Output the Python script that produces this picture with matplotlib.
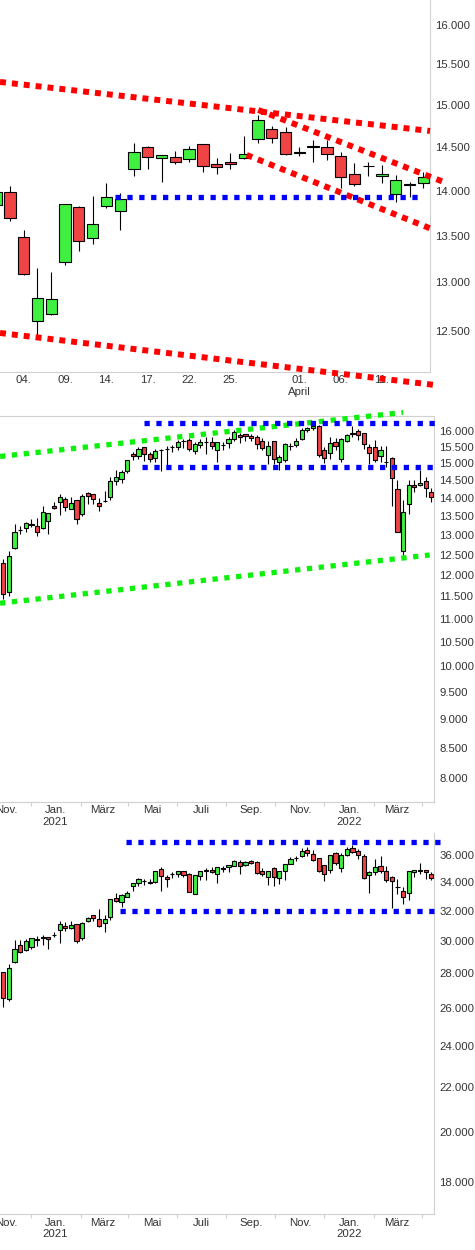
import matplotlib
matplotlib.use('Agg')
import matplotlib.pyplot as plt
import matplotlib.dates as mdates
from matplotlib.ticker import FixedLocator, FuncFormatter, NullLocator
import numpy as np
import pandas as pd

plt.rcParams['font.family'] = ['Liberation Sans', 'DejaVu Sans']

GREEN = '#40f040'
RED = '#f04444'
SPINE = '#d0d0d0'
TXT = '#333333'

# ---- daily DAX, 2 March - 14 April 2022
days = pd.bdate_range('2022-03-02', '2022-04-14')
day_open = [13838, 13981, 13483, 12604, 12670, 13213, 13814, 13471, 13824, 13768, 14243, 14497,
            14370, 14381, 14358, 14533, 14301, 14324, 14370, 14591, 14710, 14675, 14436, 14500,
            14497, 14396, 14189, 14280, 14166, 13959, 14064, 14090]
day_high = [14030, 14053, 13562, 13155, 13113, 13850, 13830, 13939, 14090, 13976, 14553, 14516,
            14410, 14454, 14516, 14540, 14373, 14428, 14631, 14881, 14750, 14742, 14504, 14583,
            14583, 14440, 14312, 14331, 14289, 14178, 14101, 14210]
day_low = [13780, 13664, 13080, 12460, 12665, 13185, 13337, 13406, 13808, 13565, 14169, 14243,
           14101, 14301, 14331, 14214, 14185, 14243, 14365, 14544, 14553, 14405, 14400, 14331,
           14347, 14027, 14056, 14169, 14090, 13875, 13928, 14027]
day_close = [13984, 13690, 13085, 12834, 12824, 13846, 13439, 13624, 13925, 13910, 14440, 14381,
             14405, 14324, 14474, 14277, 14266, 14301, 14417, 14820, 14610, 14417, 14446, 14518,
             14417, 14151, 14071, 14284, 14189, 14117, 14076, 14151]
day_tick_dates = ['2022-03-04', '2022-03-09', '2022-03-14', '2022-03-17', '2022-03-22',
                  '2022-03-25', '2022-04-01', '2022-04-06', '2022-04-11']
day_ticks_y = [12500, 13000, 13500, 14000, 14500, 15000, 15500, 16000]

# trend lines, x in trading days after 2 March
day_red_upper = ([0.28, 31.48], [15283, 14690])
day_red_lower = ([0.28, 31.99], [12480, 11964])
day_red_fast = ([19.02, 32.42], [14941, 14101])
day_red_fast2 = ([18.18, 31.48], [14408, 13580])
day_blue = ([8.62, 30.97], [13927, 13927])

# ---- weekly candles, Oct 2020 - Apr 2022
weeks = pd.date_range('2020-10-28', periods=77, freq='7D')
dax_open = [12287, 11594, 12676, 13120, 13193, 13265, 13231, 13193, 13379, 13770, 13880, 13962,
            13687, 13934, 13550, 14131, 14102, 13852, 13910, 14017, 14472, 14529, 14782, 15275,
            15214, 15488, 15284, 15171, 15400, 15420, 15490, 15488, 15680, 15708, 15366, 15551,
            15640, 15645, 15396, 15545, 15614, 15739, 15865, 15896, 15834, 15802, 15676, 15244,
            15676, 15031, 15092, 15515, 15551, 15739, 16023, 16088, 16153, 15396, 15305, 15645,
            15122, 15676, 15920, 15991, 15928, 15488, 15488, 15214, 15025, 15153, 14244, 12599,
            13825, 14358, 14358, 14472, 14159]
dax_high = [12385, 12592, 13292, 13246, 13337, 13416, 13443, 13778, 13585, 13880, 14111, 14026,
            14026, 13945, 14102, 14159, 14110, 13990, 14187, 14597, 14794, 14794, 15100, 15336,
            15488, 15500, 15345, 15436, 15427, 15528, 15560, 15708, 15748, 15771, 15645, 15739,
            15802, 15802, 15660, 15645, 15802, 16023, 15928, 15905, 15896, 15874, 15771, 15676,
            15690, 15244, 15614, 15614, 15771, 16088, 16120, 16218, 16185, 15488, 15802, 15771,
            15771, 15896, 16153, 16055, 15940, 15582, 15708, 15520, 15520, 15183, 14500, 13934,
            14500, 14500, 14794, 14588, 14273]
dax_low = [11440, 11514, 12643, 13019, 13087, 13212, 12982, 13159, 13034, 13700, 13530, 13640,
           13680, 13284, 13495, 13825, 13825, 13649, 13880, 13950, 14375, 14415, 14723, 15110,
           15140, 15061, 15049, 15049, 14782, 14853, 15336, 15396, 15457, 15366, 15275, 15457,
           15275, 15445, 15031, 15396, 15457, 15676, 15614, 15676, 15676, 15427, 15396, 14979,
           14979, 14794, 15031, 15396, 15488, 15708, 15959, 16023, 15183, 15000, 15122, 15396,
           15031, 15645, 15802, 15708, 15427, 14970, 15031, 15031, 14882, 13786, 13065, 12490,
           13550, 14159, 14330, 14017, 13880]
dax_close = [11547, 12458, 13072, 13137, 13310, 13280, 13087, 13605, 13577, 13715, 14017, 13759,
             13852, 13416, 14045, 14045, 13962, 13770, 13920, 14472, 14588, 14735, 15092, 15214,
             15427, 15275, 15122, 15375, 15410, 15430, 15500, 15663, 15690, 15427, 15582, 15645,
             15650, 15520, 15645, 15555, 15739, 15959, 15802, 15834, 15771, 15582, 15457, 15520,
             15122, 15183, 15582, 15525, 15676, 16023, 16088, 16153, 15244, 15153, 15614, 15520,
             15739, 15865, 15935, 15865, 15582, 15305, 15092, 15396, 15035, 14559, 13072, 13605,
             14375, 14301, 14415, 14273, 14017]
dax_ticks_y = list(range(8000, 16001, 500))
dax_green_upper = (['2020-10-24', '2022-03-09'], [15207, 16604])
dax_green_lower = (['2020-10-24', '2022-04-11'], [11343, 12490])
dax_blue_upper = (['2021-04-21', '2022-04-21'], [16270, 16270])
dax_blue_lower = (['2021-04-18', '2022-04-21'], [14900, 14900])

dow_open = [28074, 26519, 28689, 29736, 29428, 29613, 30075, 30210, 30243, 30388, 30702, 30964,
            30833, 31096, 30177, 31293, 31686, 31424, 31161, 31556, 32856, 32576, 32927, 33698,
            33909, 34090, 34022, 33979, 34940, 34348, 34560, 34570, 34792, 34570, 33137, 34422,
            34830, 34866, 34570, 34980, 35088, 35162, 35458, 35236, 35532, 35458, 34792, 34348,
            35014, 34274, 34792, 35310, 35770, 35902, 36365, 36054, 35754, 35236, 34866, 36132,
            35014, 35976, 36520, 36287, 35902, 34496, 34718, 35162, 34792, 34348, 33620, 33347,
            33207, 34718, 34830, 34866, 34570]
dow_high = [28100, 28584, 30066, 30066, 30131, 30200, 30328, 30374, 30260, 30571, 31293, 31227,
            31293, 31110, 31227, 31556, 31700, 32084, 31686, 32800, 33207, 33137, 33347, 33920,
            34274, 34200, 34200, 34800, 35088, 34496, 34762, 34800, 34810, 34640, 34510, 34810,
            35014, 35088, 35100, 35185, 35250, 35606, 35606, 35532, 35606, 35532, 35014, 34810,
            35088, 34810, 35330, 35828, 35924, 36520, 36597, 36365, 35770, 35250, 35990, 36210,
            36132, 36597, 36752, 36442, 36054, 34792, 35680, 35902, 35162, 34422, 34200, 33628,
            34800, 34880, 35384, 34880, 34718]
dow_low = [26097, 26439, 28603, 29219, 29342, 29490, 29693, 29754, 29465, 30243, 29895, 30637,
           30768, 29858, 30046, 31227, 31293, 30930, 30571, 31358, 32576, 32225, 32900, 33347,
           33698, 33811, 33881, 33909, 33347, 33628, 34274, 34348, 34348, 33250, 33120, 34126,
           34126, 34644, 33909, 34740, 34718, 35150, 34570, 35185, 35310, 34600, 34422, 33768,
           33698, 33839, 34126, 35290, 35554, 35828, 35902, 35580, 34718, 34052, 34644, 35236,
           34718, 35950, 36132, 35680, 34250, 33207, 34496, 34644, 33979, 32197, 33137, 32435,
           32716, 34348, 34570, 34200, 34126]
dow_close = [26576, 28320, 29490, 29305, 29982, 30177, 30095, 30222, 30112, 30400, 31096, 30833,
             31030, 29982, 31161, 31490, 31490, 30964, 31424, 32786, 32646, 33067, 33207, 33909,
             34200, 34100, 33909, 34792, 34422, 34200, 34580, 34792, 34496, 33277, 34496, 34792,
             34840, 34718, 35088, 34990, 35236, 35532, 35162, 35458, 35384, 34644, 34570, 34792,
             34348, 34792, 35310, 35680, 35780, 36287, 36132, 35606, 34792, 34570, 35976, 35384,
             35976, 36442, 36210, 35976, 34274, 34718, 35088, 34792, 34126, 34052, 33630, 32927,
             34792, 34866, 34845, 34718, 34274]
dow_ticks_y = list(range(18000, 36001, 2000))
dow_blue_upper = (['2021-03-30', '2022-04-24'], [37030, 37030])
dow_blue_lower = (['2021-03-22', '2022-04-16'], [32000, 32000])

MONTHS = {1: 'Jan.', 3: 'März', 5: 'Mai', 7: 'Juli', 9: 'Sep.', 11: 'Nov.'}


def candles(ax, x, o, h, l, c, width):
    o, h, l, c = map(np.asarray, (o, h, l, c))
    up = c >= o
    ax.vlines(x, l, h, color='black', lw=0.8, zorder=1)
    ax.bar(x, np.abs(c - o), bottom=np.minimum(o, c), width=width,
           color=np.where(up, GREEN, RED), edgecolor='black', linewidth=0.8, zorder=2)


def dotted(ax, line, color, lw=4.3, gap=1.0):
    xs, ys = line
    ax.plot(xs, ys, color=color, lw=lw, linestyle=(0, (1, gap)),
            dash_capstyle='butt', clip_on=False, zorder=4)


def price_axis(ax, ticks, ylim):
    ax.set_yscale('log')
    ax.set_ylim(*ylim)
    ax.yaxis.set_major_locator(FixedLocator(ticks))
    ax.yaxis.set_minor_locator(NullLocator())
    ax.yaxis.set_major_formatter(FuncFormatter(lambda v, p: f'{v:,.0f}'.replace(',', '.')))
    ax.yaxis.tick_right()
    ax.tick_params(axis='y', length=0, pad=4, labelsize=8.2, labelcolor=TXT)
    ax.tick_params(axis='x', labelsize=8.2, labelcolor=TXT, pad=2.5)
    for s in ['left', 'top']:
        ax.spines[s].set_visible(False)
    for s in ['right', 'bottom']:
        ax.spines[s].set_color(SPINE)
        ax.spines[s].set_linewidth(0.8)


def month_fmt(v, pos):
    d = mdates.num2date(v)
    s = MONTHS.get(d.month, '')
    if d.month == 1:
        s += f'\n{d.year}'
    return s


fig = plt.figure(figsize=(4.75, 12.5), dpi=100)
ax1 = fig.add_axes([0, 1 - 372 / 1250, 430 / 475, 372 / 1250])
ax2 = fig.add_axes([0, 1 - 802 / 1250, 434 / 475, 386 / 1250])
ax3 = fig.add_axes([0, 1 - 1214.3 / 1250, 434 / 475, 381.3 / 1250])

# ---- top: daily
xd = np.arange(len(days))
candles(ax1, xd, day_open, day_high, day_low, day_close, 0.82)
price_axis(ax1, day_ticks_y, (12093, 16328))
ax1.set_xlim(0.28, 31.48)
tick_pos = [days.get_loc(pd.Timestamp(d)) for d in day_tick_dates]
tick_lab = []
for d in day_tick_dates:
    t = pd.Timestamp(d)
    tick_lab.append(f'{t.day:02d}.' + ('\nApril' if t.month == 4 and t.day == 1 else ''))
ax1.set_xticks(tick_pos, tick_lab)
ax1.tick_params(axis='x', length=0)
dotted(ax1, day_red_upper, '#ff0000')
dotted(ax1, day_red_lower, '#ff0000')
dotted(ax1, day_red_fast, '#ff0000')
dotted(ax1, day_red_fast2, '#ff0000')
dotted(ax1, day_blue, '#0000ff', lw=3.8, gap=1.25)

# ---- middle and bottom: weekly
xw = mdates.date2num(weeks)
for ax, o, h, l, c, ticks, ylim in [
        (ax2, dax_open, dax_high, dax_low, dax_close, dax_ticks_y, (7626, 16487)),
        (ax3, dow_open, dow_high, dow_low, dow_close, dow_ticks_y, (16797, 37724))]:
    candles(ax, xw, o, h, l, c, 5.2)
    price_axis(ax, ticks, ylim)
    ax.set_xlim(xw[0] - 4.1, xw[-1] + 3.4)
    ax.xaxis.set_major_locator(mdates.MonthLocator(bymonth=[1, 3, 5, 7, 9, 11]))
    ax.xaxis.set_minor_locator(mdates.MonthLocator(bymonth=[2, 4, 6, 8, 10, 12]))
    ax.xaxis.set_major_formatter(FuncFormatter(month_fmt))
    ax.tick_params(axis='x', which='major', length=0)
    ax.tick_params(axis='x', which='minor', length=3, color=SPINE, width=0.8)

ax2.spines['top'].set_visible(True)
ax2.spines['top'].set_color(SPINE)
ax2.spines['top'].set_linewidth(0.8)


def date_line(line):
    xs, ys = line
    return (mdates.date2num(pd.to_datetime(xs)), ys)


dotted(ax2, date_line(dax_green_upper), '#0cf00c', lw=3.8, gap=1.25)
dotted(ax2, date_line(dax_green_lower), '#0cf00c', lw=3.8, gap=1.25)
dotted(ax2, date_line(dax_blue_upper), '#0000ff', lw=3.8, gap=1.25)
dotted(ax2, date_line(dax_blue_lower), '#0000ff', lw=3.8, gap=1.25)
dotted(ax3, date_line(dow_blue_upper), '#0000ff', lw=3.8, gap=1.25)
dotted(ax3, date_line(dow_blue_lower), '#0000ff', lw=3.8, gap=1.25)

fig.savefig('out.png', dpi=100)
